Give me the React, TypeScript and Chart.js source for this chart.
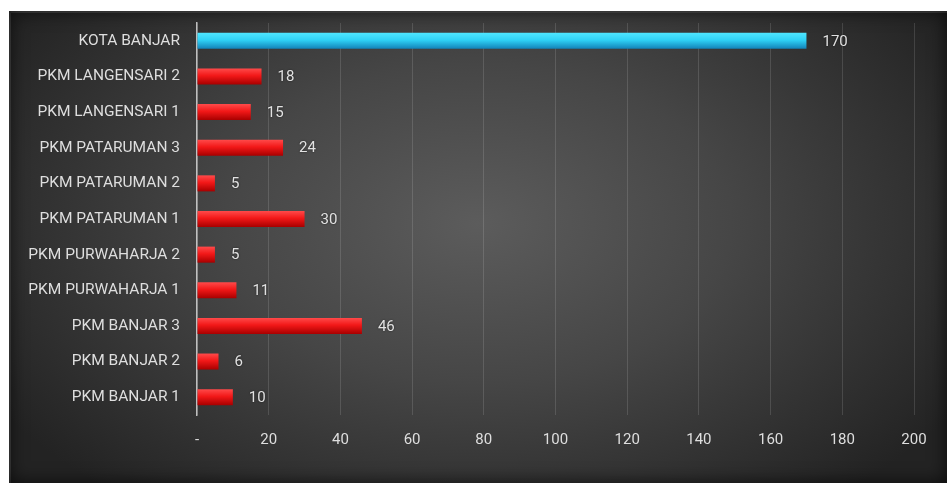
import React, { useEffect, useRef } from "react";
import { Chart, registerables } from "chart.js";

Chart.register(...registerables);

const categories = [
  "KOTA BANJAR",
  "PKM LANGENSARI 2",
  "PKM LANGENSARI 1",
  "PKM PATARUMAN 3",
  "PKM PATARUMAN 2",
  "PKM PATARUMAN 1",
  "PKM PURWAHARJA 2",
  "PKM PURWAHARJA 1",
  "PKM BANJAR 3",
  "PKM BANJAR 2",
  "PKM BANJAR 1",
];
const values = [170, 18, 15, 24, 5, 30, 5, 11, 46, 6, 10];
const xTicks = [0, 20, 40, 60, 80, 100, 120, 140, 160, 180, 200];

const FONT = "Roboto, 'Noto Sans', sans-serif";

const valueLabels = {
  id: "valueLabels",
  afterDatasetsDraw(chart: any) {
    const { ctx } = chart;
    const meta = chart.getDatasetMeta(0);
    ctx.save();
    ctx.font = `15px ${FONT}`;
    ctx.fillStyle = "#e2e2e2";
    ctx.textBaseline = "middle";
    ctx.textAlign = "left";
    ctx.shadowColor = "rgba(0,0,0,0.6)";
    ctx.shadowBlur = 2;
    meta.data.forEach((bar: any, i: number) => {
      ctx.fillText(String(values[i]), bar.x + 16, bar.y + 1);
    });
    ctx.restore();
  },
};

export default function App() {
  const ref = useRef<HTMLCanvasElement>(null);
  useEffect(() => {
    if (!ref.current) return;
    const chart = new Chart(ref.current, {
      type: "bar",
      data: {
        labels: categories,
        datasets: [
          {
            data: values,
            barPercentage: 0.45,
            categoryPercentage: 1,
            borderWidth: 0,
            backgroundColor: (c: any) => {
              const chartRef = c.chart;
              const ys = chartRef.scales && chartRef.scales.y;
              const isCyan = c.dataIndex === 0;
              const fallback = isCyan ? "#2cc8ef" : "#e81010";
              if (!ys || c.dataIndex === undefined) return fallback;
              const y = ys.getPixelForValue(c.dataIndex);
              if (!Number.isFinite(y)) return fallback;
              const g = chartRef.ctx.createLinearGradient(0, y - 8, 0, y + 8);
              if (isCyan) {
                g.addColorStop(0, "#4fe6ff");
                g.addColorStop(0.45, "#2fd2f6");
                g.addColorStop(1, "#1282b8");
              } else {
                g.addColorStop(0, "#ff4a4a");
                g.addColorStop(0.45, "#f21818");
                g.addColorStop(1, "#a80000");
              }
              return g;
            },
          },
        ],
      },
      options: {
        indexAxis: "y",
        animation: false,
        responsive: false,
        maintainAspectRatio: false,
        layout: { padding: { left: 0, right: 33, top: 12, bottom: 0 } },
        plugins: {
          legend: { display: false },
          tooltip: { enabled: false },
        },
        scales: {
          x: {
            min: 0,
            max: 200,
            afterBuildTicks: (s: any) => {
              s.ticks = xTicks.map((v) => ({ value: v }));
            },
            afterFit: (s: any) => {
              s.height = 68;
              s.paddingLeft = 0;
              s.paddingRight = 0;
            },
            grid: {
              color: "rgba(255,255,255,0.13)",
              drawTicks: false,
              lineWidth: 1,
            },
            border: { display: false },
            ticks: {
              padding: 16,
              color: "#dedede",
              font: { family: FONT, size: 15 },
              callback: (v: any) => (Number(v) === 0 ? "-" : String(v)),
            },
          },
          y: {
            afterFit: (s: any) => {
              s.width = 188;
              s.paddingTop = 0;
              s.paddingBottom = 0;
            },
            grid: { display: false, drawTicks: false },
            border: { display: true, color: "rgba(225,225,225,0.8)", width: 1.5 },
            ticks: {
              padding: 17,
              color: "#dedede",
              font: { family: FONT, size: 15.5 },
            },
          },
        },
      },
      plugins: [valueLabels],
    });
    chart.update();
    return () => chart.destroy();
  }, []);

  return (
    <div
      style={{
        position: "absolute",
        left: 9,
        top: 11,
        width: 938,
        height: 472,
        background:
          "radial-gradient(ellipse 60% 75% at 50% 45%, #5c5c5c 0%, #464646 45%, #333 75%, #232323 100%)",
        boxShadow: "inset 0 0 18px rgba(0,0,0,0.7), inset 2px 2px 0 rgba(120,120,120,0.4)",
      }}
    >
      <canvas ref={ref} width={938} height={472} style={{ display: "block" }} />
    </div>
  );
}
